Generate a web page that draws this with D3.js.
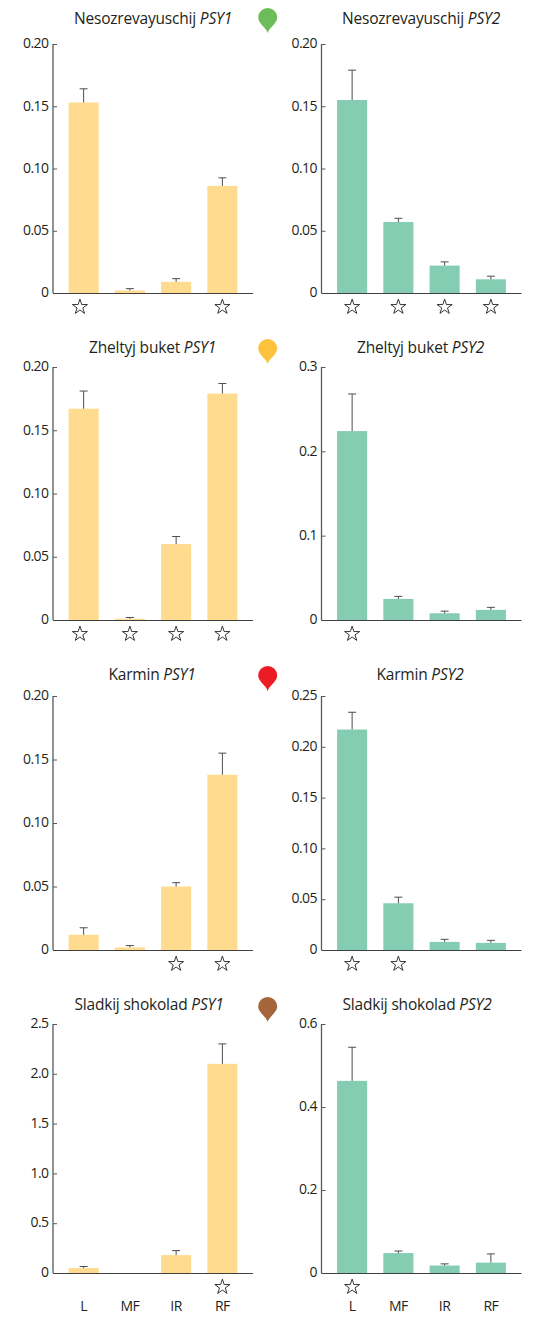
<!DOCTYPE html>
<html>
<head>
<meta charset="utf-8">
<script src="https://cdn.jsdelivr.net/npm/d3@7"></script>
<style>
  body { margin: 0; background: #fff; }
  text { font-family: "Open Sans", sans-serif; fill: #231f20; }
</style>
</head>
<body>
<div id="chart-area"></div>
<script>
var organs = ["L", "MF", "IR", "RF"];

var cultivars = ["Nesozrevayuschij", "Zheltyj buket", "Karmin", "Sladkij shokolad"];
var pinColors = ["#6cbd5a", "#fdc33c", "#ed1c24", "#a5653a"];

// PSY1: bar value, top of the error bar, y ticks, stars
var psy1Values = [
    [0.153, 0.002, 0.009, 0.086],
    [0.167, 0.001, 0.060, 0.179],
    [0.012, 0.002, 0.050, 0.138],
    [0.050, 0, 0.180, 2.100]
];
var psy1Tops = [
    [0.164, 0.0035, 0.0115, 0.0925],
    [0.181, 0.002, 0.066, 0.187],
    [0.0175, 0.0035, 0.053, 0.155],
    [0.065, 0, 0.225, 2.300]
];
var psy1Ticks = [
    [0, 0.05, 0.10, 0.15, 0.20],
    [0, 0.05, 0.10, 0.15, 0.20],
    [0, 0.05, 0.10, 0.15, 0.20],
    [0, 0.5, 1.0, 1.5, 2.0, 2.5]
];
var psy1Stars = [["L", "RF"], ["L", "MF", "IR", "RF"], ["IR", "RF"], ["RF"]];

// PSY2
var psy2Values = [
    [0.155, 0.057, 0.022, 0.011],
    [0.224, 0.025, 0.008, 0.012],
    [0.217, 0.046, 0.008, 0.007],
    [0.463, 0.048, 0.018, 0.025]
];
var psy2Tops = [
    [0.179, 0.060, 0.025, 0.0135],
    [0.268, 0.028, 0.0105, 0.015],
    [0.234, 0.052, 0.0105, 0.0095],
    [0.544, 0.053, 0.022, 0.046]
];
var psy2Ticks = [
    [0, 0.05, 0.10, 0.15, 0.20],
    [0, 0.1, 0.2, 0.3],
    [0, 0.05, 0.10, 0.15, 0.20, 0.25],
    [0, 0.2, 0.4, 0.6]
];
var psy2Stars = [["L", "MF", "IR", "RF"], ["L"], ["L", "MF"], ["L"]];

var rowTop = [44, 367, 696, 1024];
var rowBottom = [293, 620, 950, 1273];
var colLeft = [53, 321.5];
var titleY = [24, 353, 680, 1010];
var titleShift = [0, -0.5, -1, -4];
var pinTop = [8, 339, 666, 997];
var plotWidth = 200;

var svg = d3.select("#chart-area")
    .append("svg")
    .attr("width", 542)
    .attr("height", 1324);

var x = d3.scaleBand()
    .domain(organs)
    .range([7.5, 192.5])
    .paddingInner(0.35)
    .paddingOuter(0.175);

var tickFormat = function(d, ticks) {
    if (d === 0) return "0";
    return d.toFixed(ticks[1] === 0.05 ? 2 : 1);
};

function drawPanel(col, row, gene, values, tops, ticks, stars, fill) {
    var h = rowBottom[row] - rowTop[row];
    var g = svg.append("g")
        .attr("transform", "translate(" + colLeft[col] + ", " + rowTop[row] + ")");

    var y = d3.scaleLinear()
        .domain([0, d3.max(ticks)])
        .range([h, 0]);

    var data = organs.map((o, i) => ({ organ: o, value: values[i], top: tops[i] }));

    g.selectAll("rect")
        .data(data)
        .enter()
        .append("rect")
        .attr("x", d => x(d.organ))
        .attr("y", d => y(d.value))
        .attr("width", x.bandwidth())
        .attr("height", d => h - y(d.value))
        .attr("fill", fill);

    // error bars
    var err = g.selectAll(".err")
        .data(data.filter(d => d.top > d.value))
        .enter()
        .append("g")
        .attr("class", "err")
        .attr("stroke", "#4d4d4f")
        .attr("stroke-width", 1);
    err.append("line")
        .attr("x1", d => x(d.organ) + x.bandwidth() / 2)
        .attr("x2", d => x(d.organ) + x.bandwidth() / 2)
        .attr("y1", d => y(d.value))
        .attr("y2", d => y(d.top));
    err.append("line")
        .attr("x1", d => x(d.organ) + x.bandwidth() / 2 - 4)
        .attr("x2", d => x(d.organ) + x.bandwidth() / 2 + 4)
        .attr("y1", d => y(d.top))
        .attr("y2", d => y(d.top));

    var yAxis = g.append("g")
        .call(d3.axisLeft(y)
            .tickValues(ticks)
            .tickSize(-4)
            .tickPadding(4.5)
            .tickFormat(d => tickFormat(d, ticks)));
    yAxis.selectAll("path, line").attr("stroke", "#58595b");
    yAxis.select("path").attr("d", "M0," + h + "V0").attr("stroke-width", 1.3);
    yAxis.selectAll("text")
        .attr("font-size", 14)
        .attr("letter-spacing", -0.55)
        .attr("dy", "0.27em")
        .style("font-family", '"Open Sans", sans-serif');

    g.append("line")
        .attr("x1", 0)
        .attr("x2", plotWidth)
        .attr("y1", h + 0.5)
        .attr("y2", h + 0.5)
        .attr("stroke", "#404041")
        .attr("stroke-width", 1.2);

    // stars, the L star of the left column sits a little off its bar
    g.selectAll(".star")
        .data(stars)
        .enter()
        .append("path")
        .attr("class", "star")
        .attr("d", d3.symbol(d3.symbolStar).size(70))
        .attr("transform", d => "translate(" + (x(d) + x.bandwidth() / 2 - (col === 0 && d === "L" ? 3.7 : 0)) + ", " + (h + 14) + ")")
        .attr("fill", "none")
        .attr("stroke", "#231f20")
        .attr("stroke-width", 0.9);

    // title
    var title = svg.append("text")
        .attr("x", colLeft[col] + 100 - col * 0.5 + titleShift[row])
        .attr("y", titleY[row])
        .attr("text-anchor", "middle")
        .attr("font-size", 15.5)
        .attr("letter-spacing", -0.2);
    title.append("tspan").text(cultivars[row] + " ");
    title.append("tspan").attr("font-style", "italic").text(gene);

    // organ labels under the last row
    if (row === 3) {
        g.selectAll(".organ")
            .data(organs)
            .enter()
            .append("text")
            .attr("class", "organ")
            .attr("x", d => x(d) + x.bandwidth() / 2)
            .attr("y", h + 38)
            .attr("text-anchor", "middle")
            .attr("font-size", 14)
            .attr("letter-spacing", -0.5)
            .text(d => d);
    }
}

cultivars.forEach(function(name, row) {
    drawPanel(0, row, "PSY1", psy1Values[row], psy1Tops[row], psy1Ticks[row], psy1Stars[row], "#fedb8f");
    drawPanel(1, row, "PSY2", psy2Values[row], psy2Tops[row], psy2Ticks[row], psy2Stars[row], "#84ccb2");

    // map pin between the two columns
    svg.append("path")
        .attr("transform", "translate(267.7, " + (pinTop[row] + 9.5) + ")")
        .attr("d", "M0,15.5 C-1,10.5 -9.5,6 -9.5,0 A9.5,9.5 0 1 1 9.5,0 C9.5,6 1,10.5 0,15.5 Z")
        .attr("fill", pinColors[row]);
});
</script>
</body>
</html>
